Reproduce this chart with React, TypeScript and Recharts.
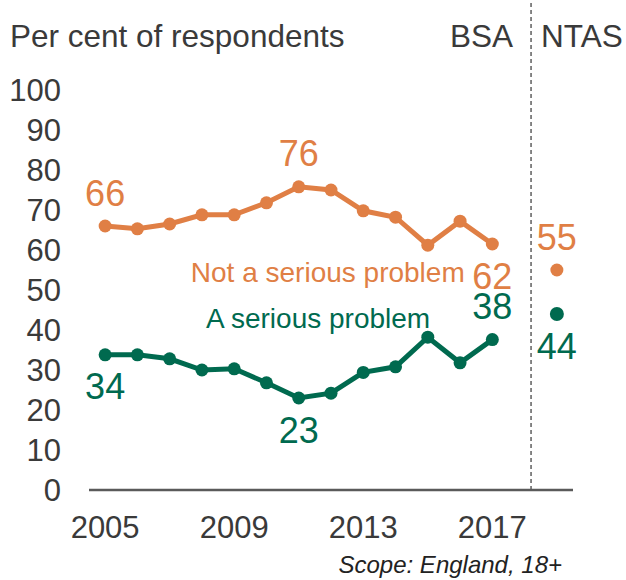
import { LineChart, Line, XAxis, YAxis, ReferenceLine, ReferenceDot } from 'recharts';

const years = [2005, 2006, 2007, 2008, 2009, 2010, 2011, 2012, 2013, 2014, 2015, 2016, 2017];
const notSerious = [66, 65.3, 66.5, 68.8, 68.8, 71.8, 75.8, 75, 69.8, 68.2, 61.2, 67.2, 61.5];
const serious = [33.8, 33.8, 32.8, 30, 30.3, 26.8, 23, 24.2, 29.4, 30.8, 38.2, 31.8, 37.6];
const ntasYear = 2019;
const ntasNotSerious = 55;
const ntasSerious = 44;
const xTicks = [2005, 2009, 2013, 2017];
const yTicks = [0, 10, 20, 30, 40, 50, 60, 70, 80, 90, 100];

const ORANGE = '#E07F45';
const GREEN = '#006A4F';
const TEXT = '#3a3a3a';
const AXIS = '#5a5a5a';

const data = [
  ...years.map((year, i) => ({ year, notSerious: notSerious[i], serious: serious[i] })),
  { year: ntasYear, ntasNot: ntasNotSerious, ntasSerious: ntasSerious },
];

type Pos = 'above' | 'below';

// value labels only on a few chosen points
const makeLabel = (color: string, marks: Record<number, Pos>) => (props: any) => {
  const { x, y, index, value } = props;
  const pos = marks[index];
  if (!pos || value == null) return null;
  return (
    <text
      key={`lbl-${index}`}
      x={x}
      y={pos === 'above' ? y - 33 : y + 32}
      dy="0.35em"
      textAnchor="middle"
      fill={color}
      fontSize={36}
    >
      {Math.round(value)}
    </text>
  );
};

export default function App() {
  return (
    <div
      style={{
        position: 'absolute',
        left: 0,
        top: 0,
        width: 626,
        height: 580,
        background: '#fff',
        fontFamily: '"Liberation Sans", Arial, sans-serif',
      }}
    >
      <LineChart width={626} height={580} data={data} margin={{ top: 90, right: 53, bottom: 30, left: 0 }}>
        <XAxis
          dataKey="year"
          type="number"
          domain={[2004.5, 2019.5]}
          ticks={xTicks}
          interval={0}
          height={60}
          tickLine={false}
          tickSize={6}
          tickMargin={20}
          axisLine={{ stroke: AXIS, strokeWidth: 2.5 }}
          tick={{ fontSize: 31, fill: TEXT }}
        />
        <YAxis
          domain={[0, 100]}
          ticks={yTicks}
          interval={0}
          width={89}
          axisLine={false}
          tickLine={false}
          tickSize={6}
          tickMargin={22}
          tick={{ fontSize: 31, fill: TEXT }}
        />
        <ReferenceLine
          segment={[
            { x: 2018.2, y: 0 },
            { x: 2018.2, y: 122 },
          ]}
          ifOverflow="visible"
          stroke="#7a7a7a"
          strokeWidth={1.8}
          strokeDasharray="4 3"
        />
        <ReferenceDot
          x={2011.9}
          y={54.4}
          r={0}
          fill="none"
          stroke="none"
          ifOverflow="visible"
          label={{ value: 'Not a serious problem', position: 'center', fill: ORANGE, fontSize: 28 }}
        />
        <ReferenceDot
          x={2011.6}
          y={43.1}
          r={0}
          fill="none"
          stroke="none"
          ifOverflow="visible"
          label={{ value: 'A serious problem', position: 'center', fill: GREEN, fontSize: 28 }}
        />
        <Line
          dataKey="notSerious"
          stroke={ORANGE}
          strokeWidth={5}
          dot={{ r: 6.5, fill: ORANGE, stroke: 'none' }}
          activeDot={false}
          isAnimationActive={false}
          label={makeLabel(ORANGE, { 0: 'above', 6: 'above', 12: 'below' })}
        />
        <Line
          dataKey="serious"
          stroke={GREEN}
          strokeWidth={5}
          dot={{ r: 6.5, fill: GREEN, stroke: 'none' }}
          activeDot={false}
          isAnimationActive={false}
          label={makeLabel(GREEN, { 0: 'below', 6: 'below', 12: 'above' })}
        />
        <Line
          dataKey="ntasNot"
          stroke="none"
          dot={{ r: 6.5, fill: ORANGE, stroke: 'none' }}
          activeDot={false}
          isAnimationActive={false}
          label={makeLabel(ORANGE, { 13: 'above' })}
        />
        <Line
          dataKey="ntasSerious"
          stroke="none"
          dot={{ r: 7, fill: GREEN, stroke: 'none' }}
          activeDot={false}
          isAnimationActive={false}
          label={makeLabel(GREEN, { 13: 'below' })}
        />
      </LineChart>
      <div style={{ position: 'absolute', left: 10, top: 21, fontSize: 31.5, lineHeight: 1, color: TEXT, whiteSpace: 'nowrap' }}>
        Per cent of respondents
      </div>
      <div style={{ position: 'absolute', right: 113, top: 21, fontSize: 31.5, lineHeight: 1, color: TEXT }}>BSA</div>
      <div style={{ position: 'absolute', left: 541, top: 21, fontSize: 31.5, lineHeight: 1, color: TEXT }}>NTAS</div>
      <div
        style={{
          position: 'absolute',
          right: 64,
          top: 553,
          fontSize: 24,
          lineHeight: 1,
          fontStyle: 'italic',
          color: '#222',
          whiteSpace: 'nowrap',
        }}
      >
        Scope: England, 18+
      </div>
    </div>
  );
}
